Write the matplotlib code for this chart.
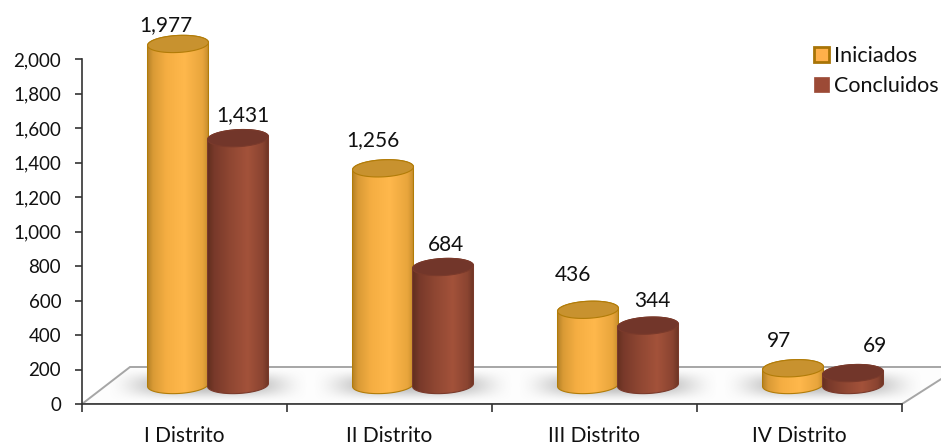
import numpy as np
from matplotlib import pyplot as plt
from matplotlib.patches import Patch, Polygon

districts = ['I Distrito', 'II Distrito', 'III Distrito', 'IV Distrito']
iniciados = [1977, 1256, 436, 97]
concluidos = [1431, 684, 344, 69]
y_ticks = [0, 200, 400, 600, 800, 1000, 1200, 1400, 1600, 1800, 2000]

# label nudges in pixels, relative to the top of each bar
ini_nudge = [(-12, 19), (-10, 28), (-15, 35), (-14, 27)]
con_nudge = [(5, 23), (3, 22), (4, 25), (22, 27)]

plt.rcParams['font.family'] = ['Lato', 'DejaVu Sans']

W, H = 941, 445
LEFT, BASE = 82, 404      # pixel position of the axis origin
PX_X = 1 / 205            # one category = 205 px
PX_Y = 2000 / 345         # 2000 units = 345 px
DEPTH_X, DEPTH_Y = -6.5 * PX_X, 19 * PX_Y
BAR_R = 30.5
ELL_B = 8.5
TILT = np.radians(3)

fig = plt.figure(figsize=(W / 100, H / 100), dpi=100)
ax = fig.add_axes([LEFT / W, (H - BASE) / H, (W - LEFT) / W, BASE / H])
ax.set_facecolor('none')


def ellipse(cx, cy, t):
    ex = BAR_R * np.cos(t) * np.cos(TILT) - ELL_B * np.sin(t) * np.sin(TILT)
    ey = BAR_R * np.cos(t) * np.sin(TILT) + ELL_B * np.sin(t) * np.cos(TILT)
    return cx + ex * PX_X, cy + ey * PX_Y


def cylinder(cx, value, ramp, top_col, edge_col, z):
    y0 = DEPTH_Y
    y1 = value + DEPTH_Y
    low = np.linspace(np.pi, 2 * np.pi, 40)
    up = np.linspace(0, np.pi, 40)
    bx, by = ellipse(cx, y0, low)
    tx, ty = ellipse(cx, y1, up)
    body = Polygon(np.c_[np.r_[bx, tx], np.r_[by, ty]], closed=True, fc='none', ec=edge_col, lw=0.8, zorder=z + 0.2)
    ax.add_patch(body)

    # horizontal shading across the cylinder
    pos = np.linspace(0, 1, 120)
    grad = np.array([np.interp(pos, ramp[0], [c[k] for c in ramp[1]]) for k in range(3)]).T
    im = ax.imshow(grad[np.newaxis, :, :], aspect='auto', zorder=z, interpolation='bilinear',
                   extent=[cx - BAR_R * PX_X, cx + BAR_R * PX_X, y0 - 12 * PX_Y, y1 + 12 * PX_Y])
    im.set_clip_path(body)

    ex, ey = ellipse(cx, y1, np.linspace(0, 2 * np.pi, 80))
    ax.add_patch(Polygon(np.c_[ex, ey], closed=True, fc=top_col, ec=edge_col, lw=0.8, zorder=z + 0.3))


def rgb(s):
    return [int(s[i:i + 2], 16) / 255 for i in (1, 3, 5)]


orange_ramp = ([0, 0.08, 0.3, 0.6, 0.9, 1],
               [rgb(c) for c in ['#B98428', '#D99A35', '#F5AE42', '#FFB84C', '#E8A53C', '#C48C2C']])
brown_ramp = ([0, 0.1, 0.35, 0.65, 0.9, 1],
              [rgb(c) for c in ['#63301F', '#78392A', '#8E4632', '#A3523A', '#8A4431', '#6C3424']])

# floor of the 3d chart
floor_x = [0, 48 * PX_X, (960 - LEFT) * PX_X, 4]
floor_y = [0, 37 * PX_Y, 37 * PX_Y, 0]
ax.add_patch(Polygon(np.c_[floor_x, floor_y], closed=True, fc='#FDFDFD', ec='#A6A6A6', lw=1.4, zorder=1))

# soft shadow under each pair of bars, fading to nothing at the box edge
gx = np.linspace(-1, 1, 200)
gy = np.linspace(-1, 1, 60)
xx, yy = np.meshgrid(gx, gy)
shadow = np.zeros(xx.shape + (4,))
shadow[..., :3] = 0.62
shadow[..., 3] = 0.7 * np.exp(-(np.abs(xx) ** 4 + yy ** 2) * 2) * (1 - xx ** 4) * (1 - yy ** 4)
for i in range(len(districts)):
    cx = i + 0.5 + 23.5 * PX_X
    ax.imshow(shadow, aspect='auto', zorder=1.5,
              extent=[cx - 100 * PX_X, cx + 100 * PX_X, 2 * PX_Y, 36 * PX_Y])

for i in range(len(districts)):
    cx = i + 0.5 + DEPTH_X
    x_ini = cx
    x_con = cx + 60 * PX_X
    cylinder(x_ini, iniciados[i], orange_ramp, '#C8922F', '#B27C08', 3 + i)
    cylinder(x_con, concluidos[i], brown_ramp, '#72362A', '#7A3A2B', 3.5 + i)
    ax.annotate(f'{iniciados[i]:,}', (x_ini, iniciados[i] + DEPTH_Y), xytext=ini_nudge[i],
                textcoords='offset pixels', ha='center', va='center', fontsize=15, color='#111111', zorder=20)
    ax.annotate(f'{concluidos[i]:,}', (x_con, concluidos[i] + DEPTH_Y), xytext=con_nudge[i],
                textcoords='offset pixels', ha='center', va='center', fontsize=15, color='#111111', zorder=20)

ax.set_xlim(0, (W - LEFT) * PX_X)
ax.set_ylim(0, BASE * PX_Y)

ax.spines['top'].set_visible(False)
ax.spines['right'].set_visible(False)
ax.spines['left'].set_bounds(0, 2000)
ax.spines['bottom'].set_bounds(0, 4)
ax.spines['left'].set_color('#333333')
ax.spines['bottom'].set_color('#333333')
ax.spines['left'].set_linewidth(1.2)
ax.spines['bottom'].set_linewidth(1.2)
ax.spines['bottom'].set_zorder(2)

ax.set_yticks(y_ticks)
ax.set_yticklabels([f'{v:,}' for v in y_ticks])
ax.set_xticks(range(len(districts) + 1))
ax.set_xticklabels([])
ax.set_xticks([i + 0.5 for i in range(len(districts))], labels=districts, minor=True)
ax.tick_params(axis='x', which='minor', length=0, pad=16, labelsize=15, labelcolor='#111111')
ax.tick_params(axis='x', which='major', length=6, width=1.2, color='#333333')
ax.tick_params(axis='y', length=5, width=1.2, color='#333333', pad=10, labelsize=13.5, labelcolor='#111111')

handles = [Patch(fc='#FFB04A', ec='#A87406', lw=2, label='Iniciados'),
           Patch(fc='#9C4A36', ec='#9C4A36', lw=0.5, label='Concluidos')]
ax.legend(handles=handles, loc='upper left', bbox_to_anchor=(814 / W, 1 - 46 / H), bbox_transform=fig.transFigure,
          frameon=False, fontsize=15.5, handlelength=0.68, handleheight=0.68, handletextpad=0.25,
          labelspacing=0.45, borderpad=0, borderaxespad=0, labelcolor='#111111')

plt.savefig('out.png', dpi=100)
